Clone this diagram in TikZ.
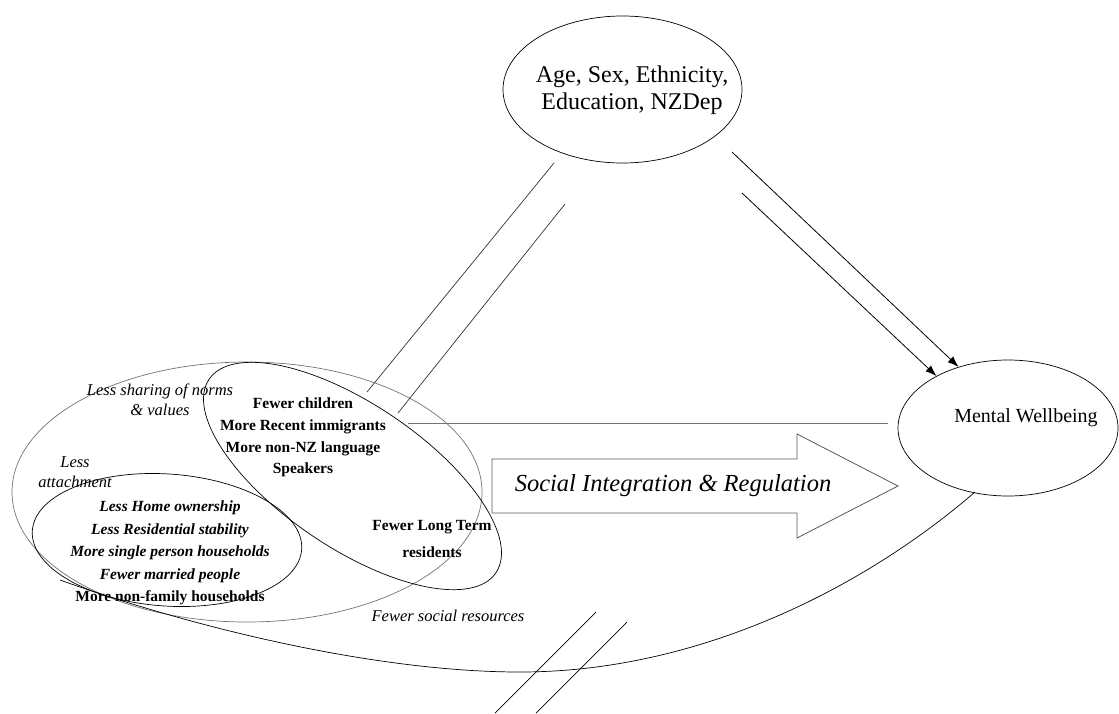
\documentclass[tikz,border=0pt]{standalone}
\usepackage{fontspec}
\setmainfont{Liberation Serif}
\usetikzlibrary{shapes.geometric,arrows.meta}

\begin{document}
\begin{tikzpicture}[x=1pt,y=-1pt,
  oval/.style={draw, ellipse, inner sep=0pt, line width=0.7pt},
  link/.style={line width=0.7pt},
  arr/.style={line width=0.8pt, -{Latex[length=11pt,width=8pt]}},
  lbl/.style={inner sep=0pt, align=center},
  big/.style={lbl, font=\fontsize{24}{27}\selectfont},
  itl/.style={lbl, font=\itshape\fontsize{16.5}{20}\selectfont},
  bld/.style={lbl, font=\bfseries\fontsize{15.5}{21.7}\selectfont},
  bit/.style={lbl, font=\bfseries\itshape\fontsize{15.5}{22.5}\selectfont}
]
\useasboundingbox (0,0) rectangle (1119,713);

% covariates and outcome
\node[oval, minimum width=239pt, minimum height=147pt] (cov) at (622.5,89.5) {};
\node[big] (covtext) at (632,90.5) {Age, Sex, Ethnicity,\\Education, NZDep};
\node[oval, minimum width=220pt, minimum height=136pt] (mw) at (1008,428) {};
\node[lbl, font=\fontsize{20}{22}\selectfont] (mwtext) at (1026,418) {Mental Wellbeing};

% neighbourhood characteristics
\node[oval, draw=black!55, minimum width=470pt, minimum height=260pt] (outer) at (247,492) {};
\node[oval, minimum width=346pt, minimum height=144pt, rotate=-34] (tilt) at (352.5,476) {};
\node[oval, minimum width=270pt, minimum height=132pt, rotate=-4] (low) at (167,540) {};

\node[itl] (norms) at (160,400) {Less sharing of norms\\\& values};
\node[itl] (attach) at (75,472.5) {Less\\attachment};
\node[bld] (pop) at (303,437.5) {Fewer children\\More Recent immigrants\\More non-NZ language\\Speakers};
\node[bit] (res) at (170,553) {Less Home ownership\\Less Residential stability\\More single person households\\Fewer married people\\\upshape More non-family households};
\node[lbl, font=\bfseries\fontsize{15.5}{27}\selectfont] (longterm) at (432,538.5) {Fewer Long Term\\residents};
\node[itl] (socres) at (448,616) {Fewer social resources};

% block arrow
\draw[line width=0.8pt, draw=black!65] (492,459) -- (797,459) -- (797,434) -- (898,486)
  -- (797,538) -- (797,513) -- (492,513) -- cycle;
\node[lbl, font=\itshape\fontsize{24.5}{26}\selectfont] (sir) at (673,486) {Social Integration \& Regulation};

% paths between the blocks
\coordinate (c1a) at (554,163); \coordinate (c1b) at (367,392);
\coordinate (c2a) at (565,204); \coordinate (c2b) at (398,413);
\draw[link, draw=black!80] (c1a) -- (c1b);
\draw[link, draw=black!80] (c2a) -- (c2b);

\coordinate (a1) at (732,152);
\coordinate (a2) at (742,193);
\draw[arr] (a1) -- (mw.129);
\draw[arr] (a2) -- (mw.144);

\coordinate (h1) at (408,423);
\coordinate (h2) at (888,423);
\draw[link, draw=black!55] (h1) -- (h2);

\coordinate (lowfoot) at (60,580);
\coordinate (mwfoot) at (975,492);
\draw[link] (lowfoot) .. controls (200,630) and (380,672) .. (520,672)
  .. controls (700,672) and (865,587) .. (mwfoot);

% break marks on the curved path
\coordinate (b1a) at (596,612); \coordinate (b1b) at (495,713);
\coordinate (b2a) at (627,622); \coordinate (b2b) at (536,713);
\draw[link] (b1a) -- (b1b);
\draw[link] (b2a) -- (b2b);
\end{tikzpicture}
\end{document}
